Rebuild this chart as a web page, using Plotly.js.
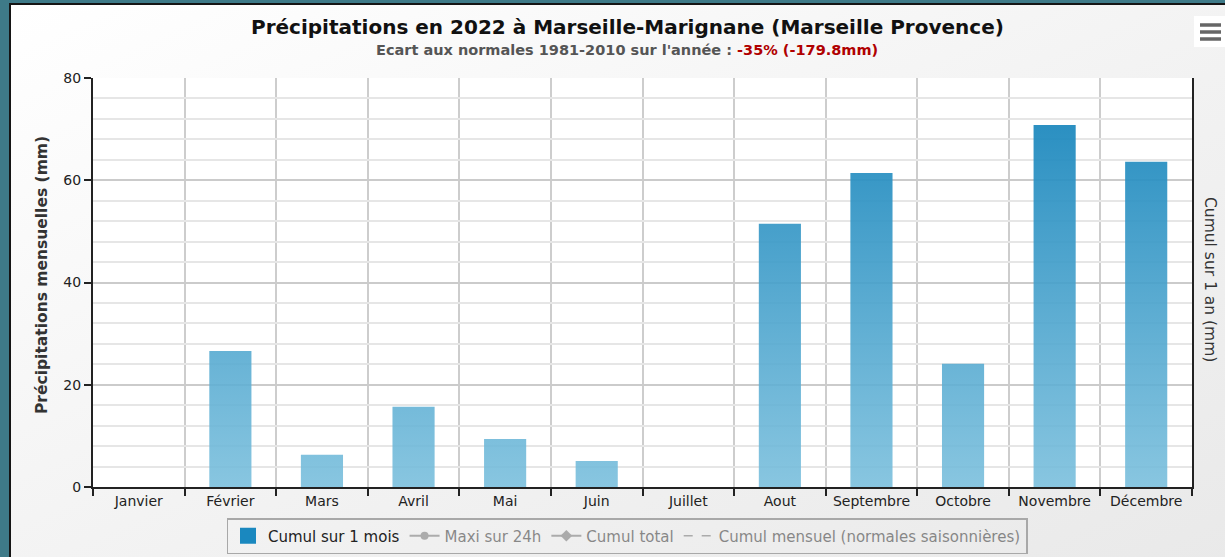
<!DOCTYPE html>
<html>
<head>
<meta charset="utf-8">
<script src="https://cdn.plot.ly/plotly-3.0.1.min.js"></script>
<style>
html,body{margin:0;padding:0;width:1225px;height:557px;overflow:hidden;background:#3e7a88;}
#frame{position:absolute;left:9px;top:3px;width:1230px;height:560px;border-left:2px solid #151515;border-top:2px solid #151515;background:linear-gradient(to bottom right,#ffffff 0%,#f2f2f2 55%,#e9e9e9 100%);}
#chart{position:absolute;left:0;top:0;width:1214px;height:552px;}
</style>
</head>
<body>
<div id="frame"><div id="chart"></div></div>
<script>
// ---- data ----
const months = ["Janvier","Février","Mars","Avril","Mai","Juin","Juillet","Aout","Septembre","Octobre","Novembre","Décembre"];
const cumulMois = [0, 26.6, 6.3, 15.7, 9.4, 5.1, 0, 51.5, 61.4, 24.1, 70.8, 63.6];
const titleText = "Précipitations en 2022 à Marseille-Marignane (Marseille Provence)";
const subtitlePrefix = "Ecart aux normales 1981-2010 sur l'année : ";
const ecartText = "-35% (-179.8mm)";
const yLeftTitle = "Précipitations mensuelles (mm)";
const yRightTitle = "Cumul sur 1 an (mm)";
const legendNames = ["Cumul sur 1 mois","Maxi sur 24h","Cumul total","Cumul mensuel (normales saisonnières)"];

// ---- build bar polygons (filled with a vertical gradient) ----
const idx = months.map((m,i)=>i);
const half = 0.23;
const bx = [], by = [];
cumulMois.forEach((v,i)=>{
  bx.push(i-half, i+half, i+half, i-half, i-half, null);
  by.push(0, 0, v, v, 0, null);
});

const font = "'DejaVu Sans', sans-serif";

const traces = [
  {
    type:'scatter', mode:'lines', name:legendNames[0], showlegend:false,
    x:bx, y:by, fill:'toself', connectgaps:false,
    line:{width:0, color:'rgba(30,138,192,0.9)'},
    fillcolor:'rgba(24,135,190,0.95)',
    fillgradient:{type:'vertical', start:0, stop:80,
      colorscale:[[0,'rgba(120,190,220,0.88)'],[1,'rgba(18,130,186,0.95)']]},
    hoverinfo:'skip'
  },
  // legend entry (square swatch) for the monthly totals
  {type:'scatter', mode:'markers', name:legendNames[0], x:[null], y:[null],
   marker:{symbol:'square', size:16, color:'#1a88bf', line:{width:0}}, hoverinfo:'skip'},
  {type:'scatter', mode:'lines+markers', name:legendNames[1], x:[null], y:[null], visible:'legendonly',
   line:{color:'#6a6a6a', width:2}, marker:{symbol:'circle', size:8, color:'#6a6a6a'}},
  {type:'scatter', mode:'lines+markers', name:legendNames[2], x:[null], y:[null], visible:'legendonly',
   line:{color:'#6a6a6a', width:2}, marker:{symbol:'diamond', size:9, color:'#6a6a6a'}},
  {type:'scatter', mode:'lines', name:legendNames[3], x:[null], y:[null], visible:'legendonly',
   line:{color:'#6a6a6a', width:1.5, dash:'dash'}}
];

const L = 82, R = 33, T = 73, B = 70, W = 1214, H = 552;
const pw = W-L-R, ph = H-T-B;
const px = d => (d - L)/pw;      // div x -> paper x
const py = d => (H - B - d)/ph;  // div y -> paper y

const layout = {
  width:W, height:H,
  margin:{l:L, r:R, t:T, b:B, autoexpand:false},
  paper_bgcolor:'rgba(0,0,0,0)',
  plot_bgcolor:'#ffffff',
  font:{family:font, color:'#222', size:14},
  showlegend:true,
  legend:{orientation:'h', x:px(616), xanchor:'center', y:py(513), yanchor:'top',
    bordercolor:'#a8a8a8', borderwidth:1.5, bgcolor:'rgba(0,0,0,0)',
    font:{family:font, size:15, color:'#222'}, itemwidth:30, traceorder:'normal'},
  xaxis:{
    range:[-0.5, 11.5], tickmode:'array', tickvals:idx, ticktext:months,
    ticks:'', showgrid:false, zeroline:false,
    showline:true, linecolor:'#222', linewidth:2,
    tickfont:{family:font, size:14, color:'#222'},
    minor:{tickmode:'linear', tick0:0.5, dtick:1, ticks:'outside', ticklen:7, tickwidth:2, tickcolor:'#222',
      showgrid:true, gridcolor:'#cdcdcd', gridwidth:1.5},
    fixedrange:true
  },
  yaxis:{
    range:[0,80], tickmode:'linear', tick0:0, dtick:20,
    ticks:'outside', ticklen:7, tickwidth:2, tickcolor:'#222',
    showgrid:true, gridcolor:'#cbcbcb', gridwidth:1.5, zeroline:false,
    showline:true, linecolor:'#222', linewidth:2, mirror:true,
    tickfont:{family:font, size:14, color:'#222'},
    minor:{tickmode:'linear', tick0:0, dtick:4, showgrid:true, gridcolor:'#e6e6e6', gridwidth:1.5},
    fixedrange:true
  },
  annotations:[
    {xref:'paper', yref:'paper', x:px(616), y:py(22), xanchor:'center', yanchor:'middle', showarrow:false,
     text:'<b>'+titleText+'</b>', font:{family:font, size:20, color:'#111'}},
    {xref:'paper', yref:'paper', x:px(616), y:py(45), xanchor:'center', yanchor:'middle', showarrow:false,
     text:'<b>'+subtitlePrefix+'<span style="color:#b00000">'+ecartText+'</span></b>', font:{family:font, size:14.5, color:'#555'}},
    {xref:'paper', yref:'paper', x:px(31), y:py(270), xanchor:'center', yanchor:'middle', showarrow:false, textangle:-90,
     text:'<b>'+yLeftTitle+'</b>', font:{family:font, size:15.5, color:'#333'}},
    {xref:'paper', yref:'paper', x:px(1199), y:py(274), xanchor:'center', yanchor:'middle', showarrow:false, textangle:90,
     text:yRightTitle, font:{family:font, size:15.5, color:'#333'}}
  ],
  shapes:[
    {type:'rect', xref:'paper', yref:'paper', x0:px(1183), x1:px(1216), y0:py(11), y1:py(42), fillcolor:'#ffffff', line:{width:0}, layer:'above'},
    {type:'line', xref:'paper', yref:'paper', x0:px(1189), x1:px(1210), y0:py(20), y1:py(20), line:{color:'#666', width:3.5}},
    {type:'line', xref:'paper', yref:'paper', x0:px(1189), x1:px(1210), y0:py(27), y1:py(27), line:{color:'#666', width:3.5}},
    {type:'line', xref:'paper', yref:'paper', x0:px(1189), x1:px(1210), y0:py(34), y1:py(34), line:{color:'#666', width:3.5}}
  ]
};

Plotly.newPlot('chart', traces, layout, {displayModeBar:false, staticPlot:false});
</script>
</body>
</html>
